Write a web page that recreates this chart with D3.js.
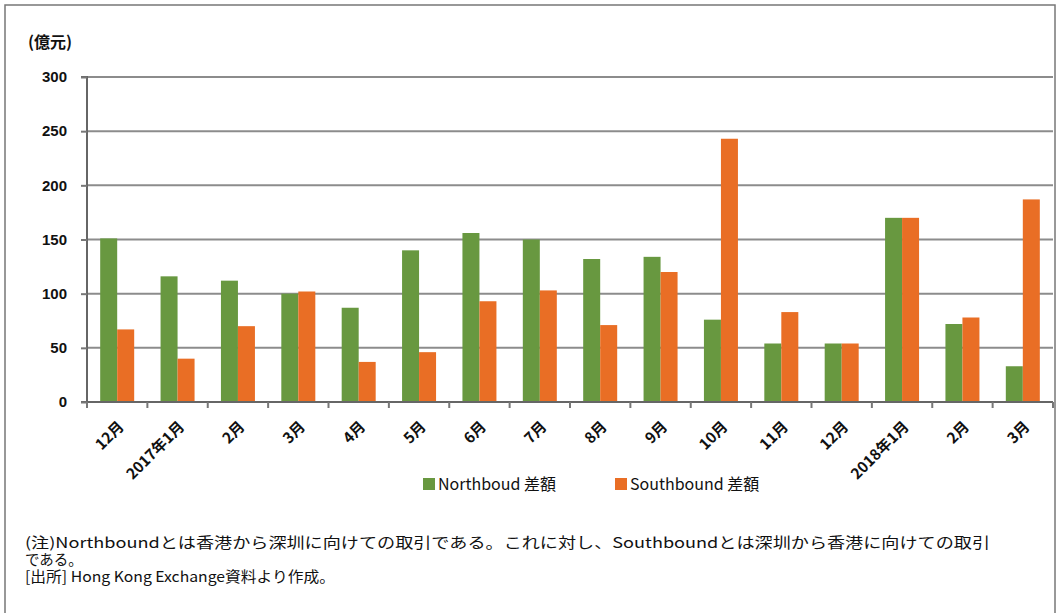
<!DOCTYPE html>
<html>
<head>
<meta charset="utf-8">
<script src="https://cdn.jsdelivr.net/npm/d3@7"></script>
<style>
  body { margin: 0; background: #fff; }
  svg { display: block; }
  text { font-family: "Noto Sans CJK JP", "Noto Sans", sans-serif; fill: #111; }
</style>
</head>
<body>
<div id="chart"></div>
<script>
// month labels
var months = ["12月", "2017年1月", "2月", "3月", "4月", "5月", "6月", "7月", "8月", "9月", "10月", "11月", "12月", "2018年1月", "2月", "3月"];
// Northbound 差額 (億元)
var northbound = [151, 116, 112, 100, 87, 140, 156, 150, 132, 134, 76, 54, 54, 170, 72, 33];
// Southbound 差額 (億元)
var southbound = [67, 40, 70, 102, 37, 46, 93, 103, 71, 120, 243, 83, 54, 170, 78, 187];
var yTicks = [0, 50, 100, 150, 200, 250, 300];
var seriesNames = ["Northboud 差額", "Southbound 差額"];
var colors = ["#689840", "#E96E25"];

var width = 1062, height = 613;
var margin = {top: 77, right: 9, bottom: 211, left: 87};
var innerW = width - margin.left - margin.right,
    innerH = height - margin.top - margin.bottom;

var svg = d3.select("#chart").append("svg")
  .attr("width", width)
  .attr("height", height);

// outer frame
svg.append("rect")
  .attr("x", 5).attr("y", 5)
  .attr("width", 1050).attr("height", 620)
  .attr("fill", "none")
  .attr("stroke", "#777")
  .attr("stroke-width", 1.5);

var keys = months.map(function(d, i){ return i; });

var x = d3.scaleBand().domain(keys).range([0, innerW]).paddingInner(0).paddingOuter(0);
var x1 = d3.scaleBand().domain([0, 1]).range([0, 34]);
var y = d3.scaleLinear().domain([0, 300]).range([innerH, 0]);

var g = svg.append("g").attr("transform", `translate(${margin.left},${margin.top})`);

// gridlines
g.append("g").selectAll("line")
  .data(yTicks.slice(1))
  .enter().append("line")
  .attr("x1", 0).attr("x2", innerW)
  .attr("y1", d => y(d)).attr("y2", d => y(d))
  .attr("stroke", "#8c8c8c")
  .attr("stroke-width", 2);

// bars
var data = months.map(function(m, i){
  return {i: i, values: [northbound[i], southbound[i]]};
});

var groups = g.selectAll(".grp")
  .data(data)
  .enter().append("g")
  .attr("class", "grp")
  .attr("transform", d => `translate(${x(d.i) + x.bandwidth()/2 - 17},0)`);

groups.selectAll("rect")
  .data(d => d.values.map((v, k) => ({k: k, v: v})))
  .enter().append("rect")
  .attr("x", d => x1(d.k))
  .attr("width", x1.bandwidth())
  .attr("y", d => y(d.v))
  .attr("height", d => innerH - y(d.v))
  .attr("fill", d => colors[d.k]);

// y axis
var yAxis = d3.axisLeft(y).tickValues(yTicks).tickSize(6).tickPadding(14);
var yg = g.append("g").call(yAxis);
yg.select(".domain").attr("stroke", "#666").attr("stroke-width", 2).attr("d", `M-6,0H0V${innerH}H-6`);
yg.selectAll(".tick line").attr("stroke", "#777").attr("stroke-width", 2);
yg.selectAll(".tick text")
  .style("font-family", "'Liberation Sans', Arial, sans-serif")
  .style("font-size", "15px")
  .style("font-weight", "bold")
  .attr("fill", "#111");

// x axis
var xg = g.append("g").attr("transform", `translate(0,${innerH})`);
xg.append("line")
  .attr("x1", 0).attr("x2", innerW)
  .attr("stroke", "#666").attr("stroke-width", 2);
xg.selectAll(".xt")
  .data(d3.range(months.length + 1))
  .enter().append("line")
  .attr("x1", d => d * x.step()).attr("x2", d => d * x.step())
  .attr("y1", 0).attr("y2", 6)
  .attr("stroke", "#777").attr("stroke-width", 2);
xg.selectAll(".xl")
  .data(months)
  .enter().append("text")
  .attr("transform", (d, i) => `translate(${x(i) + x.bandwidth()/2 + 4},${22}) rotate(-45)`)
  .attr("text-anchor", "end")
  .attr("dy", "0.35em")
  .style("font-size", "15px")
  .style("font-weight", "bold")
  .text(d => d);

// unit label
svg.append("text")
  .attr("x", 28).attr("y", 48)
  .style("font-size", "16px")
  .style("font-weight", "bold")
  .text("(億元)");

// legend
var legendX = [423, 615];
var legend = svg.append("g").selectAll("g")
  .data(seriesNames)
  .enter().append("g")
  .attr("transform", (d, i) => `translate(${legendX[i]},478)`);
legend.append("rect")
  .attr("width", 12).attr("height", 12)
  .attr("fill", (d, i) => colors[i]);
legend.append("text")
  .attr("x", 15).attr("y", 12)
  .style("font-size", "16px")
  .text(d => d);

// footnote
var notes = [
  "(注)Northboundとは香港から深圳に向けての取引である。これに対し、Southboundとは深圳から香港に向けての取引",
  "である。",
  "[出所] Hong Kong Exchange資料より作成。"
];
var noteLen = [965, null, 310];
var noteText = svg.append("g").selectAll("text")
  .data(notes)
  .enter().append("text")
  .attr("x", 25)
  .attr("y", (d, i) => 548 + i * 17)
  .attr("lengthAdjust", "spacingAndGlyphs")
  .style("font-size", "14.5px")
  .text(d => d);
noteText.filter((d, i) => noteLen[i]).attr("textLength", (d, i) => noteLen[notes.indexOf(d)]);
</script>
</body>
</html>
